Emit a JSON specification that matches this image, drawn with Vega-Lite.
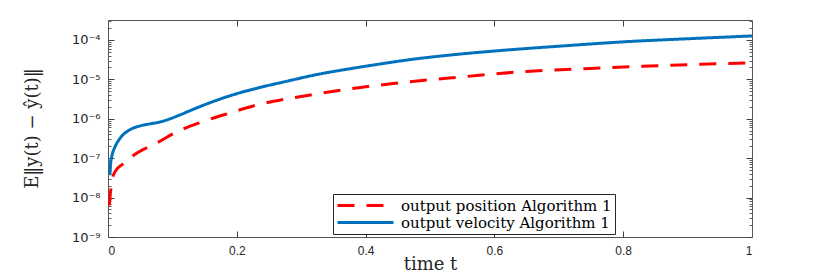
{
  "$schema": "https://vega.github.io/schema/vega-lite/v6.json",
  "width": 644,
  "height": 217,
  "autosize": {"type": "none"},
  "padding": {"left": 108, "top": 20, "right": 78, "bottom": 36},
  "background": "white",
  "config": {"view": {"stroke": null}, "axis": {"grid": false}},
  "data": {"values": [
    {"t": 0.002, "v": 6.31e-9, "series": "output position Algorithm 1"},
    {"t": 0.004, "v": 1.41e-8, "series": "output position Algorithm 1"},
    {"t": 0.006, "v": 2.51e-8, "series": "output position Algorithm 1"},
    {"t": 0.011, "v": 4.57e-8, "series": "output position Algorithm 1"},
    {"t": 0.023, "v": 7.08e-8, "series": "output position Algorithm 1"},
    {"t": 0.045, "v": 1.35e-7, "series": "output position Algorithm 1"},
    {"t": 0.076, "v": 2.45e-7, "series": "output position Algorithm 1"},
    {"t": 0.107, "v": 4.68e-7, "series": "output position Algorithm 1"},
    {"t": 0.148, "v": 8.51e-7, "series": "output position Algorithm 1"},
    {"t": 0.19, "v": 1.41e-6, "series": "output position Algorithm 1"},
    {"t": 0.231, "v": 2.24e-6, "series": "output position Algorithm 1"},
    {"t": 0.287, "v": 3.39e-6, "series": "output position Algorithm 1"},
    {"t": 0.34, "v": 4.68e-6, "series": "output position Algorithm 1"},
    {"t": 0.395, "v": 6.31e-6, "series": "output position Algorithm 1"},
    {"t": 0.446, "v": 7.94e-6, "series": "output position Algorithm 1"},
    {"t": 0.5, "v": 9.77e-6, "series": "output position Algorithm 1"},
    {"t": 0.554, "v": 1.17e-5, "series": "output position Algorithm 1"},
    {"t": 0.6, "v": 1.38e-5, "series": "output position Algorithm 1"},
    {"t": 0.65, "v": 1.58e-5, "series": "output position Algorithm 1"},
    {"t": 0.74, "v": 1.86e-5, "series": "output position Algorithm 1"},
    {"t": 0.83, "v": 2.14e-5, "series": "output position Algorithm 1"},
    {"t": 0.92, "v": 2.40e-5, "series": "output position Algorithm 1"},
    {"t": 1.0, "v": 2.63e-5, "series": "output position Algorithm 1"},
    {"t": 0.003, "v": 3.72e-8, "series": "output velocity Algorithm 1"},
    {"t": 0.004, "v": 7.08e-8, "series": "output velocity Algorithm 1"},
    {"t": 0.006, "v": 1.12e-7, "series": "output velocity Algorithm 1"},
    {"t": 0.011, "v": 1.95e-7, "series": "output velocity Algorithm 1"},
    {"t": 0.019, "v": 3.24e-7, "series": "output velocity Algorithm 1"},
    {"t": 0.034, "v": 5.25e-7, "series": "output velocity Algorithm 1"},
    {"t": 0.05, "v": 6.61e-7, "series": "output velocity Algorithm 1"},
    {"t": 0.065, "v": 7.41e-7, "series": "output velocity Algorithm 1"},
    {"t": 0.081, "v": 8.32e-7, "series": "output velocity Algorithm 1"},
    {"t": 0.095, "v": 9.77e-7, "series": "output velocity Algorithm 1"},
    {"t": 0.112, "v": 1.26e-6, "series": "output velocity Algorithm 1"},
    {"t": 0.143, "v": 2.04e-6, "series": "output velocity Algorithm 1"},
    {"t": 0.174, "v": 3.16e-6, "series": "output velocity Algorithm 1"},
    {"t": 0.205, "v": 4.57e-6, "series": "output velocity Algorithm 1"},
    {"t": 0.24, "v": 6.46e-6, "series": "output velocity Algorithm 1"},
    {"t": 0.272, "v": 8.51e-6, "series": "output velocity Algorithm 1"},
    {"t": 0.324, "v": 1.32e-5, "series": "output velocity Algorithm 1"},
    {"t": 0.376, "v": 1.86e-5, "series": "output velocity Algorithm 1"},
    {"t": 0.407, "v": 2.24e-5, "series": "output velocity Algorithm 1"},
    {"t": 0.474, "v": 3.24e-5, "series": "output velocity Algorithm 1"},
    {"t": 0.54, "v": 4.27e-5, "series": "output velocity Algorithm 1"},
    {"t": 0.609, "v": 5.37e-5, "series": "output velocity Algorithm 1"},
    {"t": 0.7, "v": 6.92e-5, "series": "output velocity Algorithm 1"},
    {"t": 0.81, "v": 9.12e-5, "series": "output velocity Algorithm 1"},
    {"t": 0.9, "v": 1.07e-4, "series": "output velocity Algorithm 1"},
    {"t": 1.0, "v": 1.26e-4, "series": "output velocity Algorithm 1"}
  ]},
  "layer": [
    {
      "mark": {"type": "line", "strokeWidth": 3, "clip": true, "interpolate": "monotone"},
      "encoding": {
        "x": {"field": "t", "type": "quantitative", "scale": {"domain": [0, 1], "nice": false},
          "axis": {"orient": "bottom", "values": [0, 0.2, 0.4, 0.6, 0.8, 1], "format": "~g", "ticks": false,
            "labelPadding": 8, "labelFont": "Liberation Sans", "labelFontSize": 12, "labelColor": "#262626",
            "domainColor": "#555555", "title": "time t", "titleFont": "DejaVu Serif", "titleFontSize": 18,
            "titleFontWeight": "normal", "titleColor": "#262626", "titleX": 322, "titleY": 27, "titleBaseline": "middle", "titleAlign": "center"}},
        "y": {"field": "v", "type": "quantitative", "scale": {"type": "log", "domain": [1e-9, 3.2e-4], "nice": false},
          "axis": {"orient": "left", "values": [1e-9, 1e-8, 1e-7, 1e-6, 1e-5, 1e-4], "ticks": false,
            "labelExpr": "'10⁻' + ['0','¹','²','³','⁴','⁵','⁶','⁷','⁸','⁹'][round(-log(datum.value)/LN10)]",
            "labelPadding": 8, "labelFont": "DejaVu Sans", "labelFontSize": 13, "labelColor": "#262626",
            "domainColor": "#555555", "title": "E‖y(t) − ŷ(t)‖", "titleFont": "DejaVu Serif", "titleFontSize": 18,
            "titleFontWeight": "normal", "titleColor": "#262626", "titleX": -76, "titleY": 108, "titleAngle": -90,
            "titleBaseline": "middle", "titleAlign": "center"}},
        "color": {"field": "series", "type": "nominal",
          "scale": {"domain": ["output position Algorithm 1", "output velocity Algorithm 1"], "range": ["#FF0000", "#0072BD"]},
          "legend": {"title": null, "orient": "none", "legendX": 225, "legendY": 174, "symbolType": "M-4,0H4",
            "symbolSize": 196, "symbolStrokeWidth": 3, "symbolOffset": 21, "labelFont": "DejaVu Serif", "labelFontSize": 15,
            "labelColor": "#000000", "labelLimit": 600, "strokeColor": "#262626", "fillColor": "white",
            "padding": 3, "rowPadding": 0, "labelOffset": 27}},
        "strokeDash": {"field": "series", "type": "nominal",
          "scale": {"domain": ["output position Algorithm 1", "output velocity Algorithm 1"], "range": [[17, 12], [1, 0]]},
          "legend": {"title": null, "orient": "none", "legendX": 225, "legendY": 174, "symbolType": "M-4,0H4",
            "symbolSize": 196, "symbolStrokeWidth": 3, "symbolOffset": 21, "labelFont": "DejaVu Serif", "labelFontSize": 15,
            "labelColor": "#000000", "labelLimit": 600, "strokeColor": "#262626", "fillColor": "white",
            "padding": 3, "rowPadding": 0, "labelOffset": 27}}
      }
    },
    {
      "mark": {"type": "point", "opacity": 0},
      "encoding": {
        "x": {"field": "t", "type": "quantitative",
          "axis": {"orient": "top", "values": [0.2, 0.4, 0.6, 0.8], "labels": false, "tickSize": -6, "tickColor": "#404040",
            "domainColor": "#555555", "title": null}},
        "y": {"field": "v", "type": "quantitative",
          "axis": {"orient": "right", "values": [1e-9, 1e-8, 1e-7, 1e-6, 1e-5, 1e-4], "labels": false, "tickSize": -6,
            "tickColor": "#404040", "domainColor": "#555555", "title": null}}
      }
    },
    {
      "mark": {"type": "point", "opacity": 0},
      "encoding": {
        "x": {"field": "t", "type": "quantitative",
          "axis": {"orient": "bottom", "values": [0.2, 0.4, 0.6, 0.8], "labels": false, "tickSize": -6, "tickColor": "#404040",
            "domain": false, "title": null}},
        "y": {"field": "v", "type": "quantitative",
          "axis": {"orient": "left", "values": [1e-9, 1e-8, 1e-7, 1e-6, 1e-5, 1e-4], "labels": false, "tickSize": -6,
            "tickColor": "#404040", "domain": false, "title": null}}
      }
    },
    {
      "mark": {"type": "point", "opacity": 0},
      "encoding": {
        "x": {"field": "t", "type": "quantitative", "axis": null},
        "y": {"field": "v", "type": "quantitative",
          "axis": {"orient": "left", "values": [2e-9, 3e-9, 4e-9, 5e-9, 6e-9, 7e-9, 8e-9, 9e-9, 2e-8, 3e-8, 4e-8, 5e-8, 6e-8, 7e-8, 8e-8, 9e-8, 2e-7, 3e-7, 4e-7, 5e-7, 6e-7, 7e-7, 8e-7, 9e-7, 2e-6, 3e-6, 4e-6, 5e-6, 6e-6, 7e-6, 8e-6, 9e-6, 2e-5, 3e-5, 4e-5, 5e-5, 6e-5, 7e-5, 8e-5, 9e-5, 2e-4, 3e-4],
            "labels": false, "tickSize": -3, "tickColor": "#606060", "domain": false, "title": null}}
      }
    },
    {
      "mark": {"type": "point", "opacity": 0},
      "encoding": {
        "x": {"field": "t", "type": "quantitative", "axis": null},
        "y": {"field": "v", "type": "quantitative",
          "axis": {"orient": "right", "values": [2e-9, 3e-9, 4e-9, 5e-9, 6e-9, 7e-9, 8e-9, 9e-9, 2e-8, 3e-8, 4e-8, 5e-8, 6e-8, 7e-8, 8e-8, 9e-8, 2e-7, 3e-7, 4e-7, 5e-7, 6e-7, 7e-7, 8e-7, 9e-7, 2e-6, 3e-6, 4e-6, 5e-6, 6e-6, 7e-6, 8e-6, 9e-6, 2e-5, 3e-5, 4e-5, 5e-5, 6e-5, 7e-5, 8e-5, 9e-5, 2e-4, 3e-4],
            "labels": false, "tickSize": -3, "tickColor": "#606060", "domain": false, "title": null}}
      }
    }
  ],
  "resolve": {"axis": {"x": "independent", "y": "independent"}}
}
